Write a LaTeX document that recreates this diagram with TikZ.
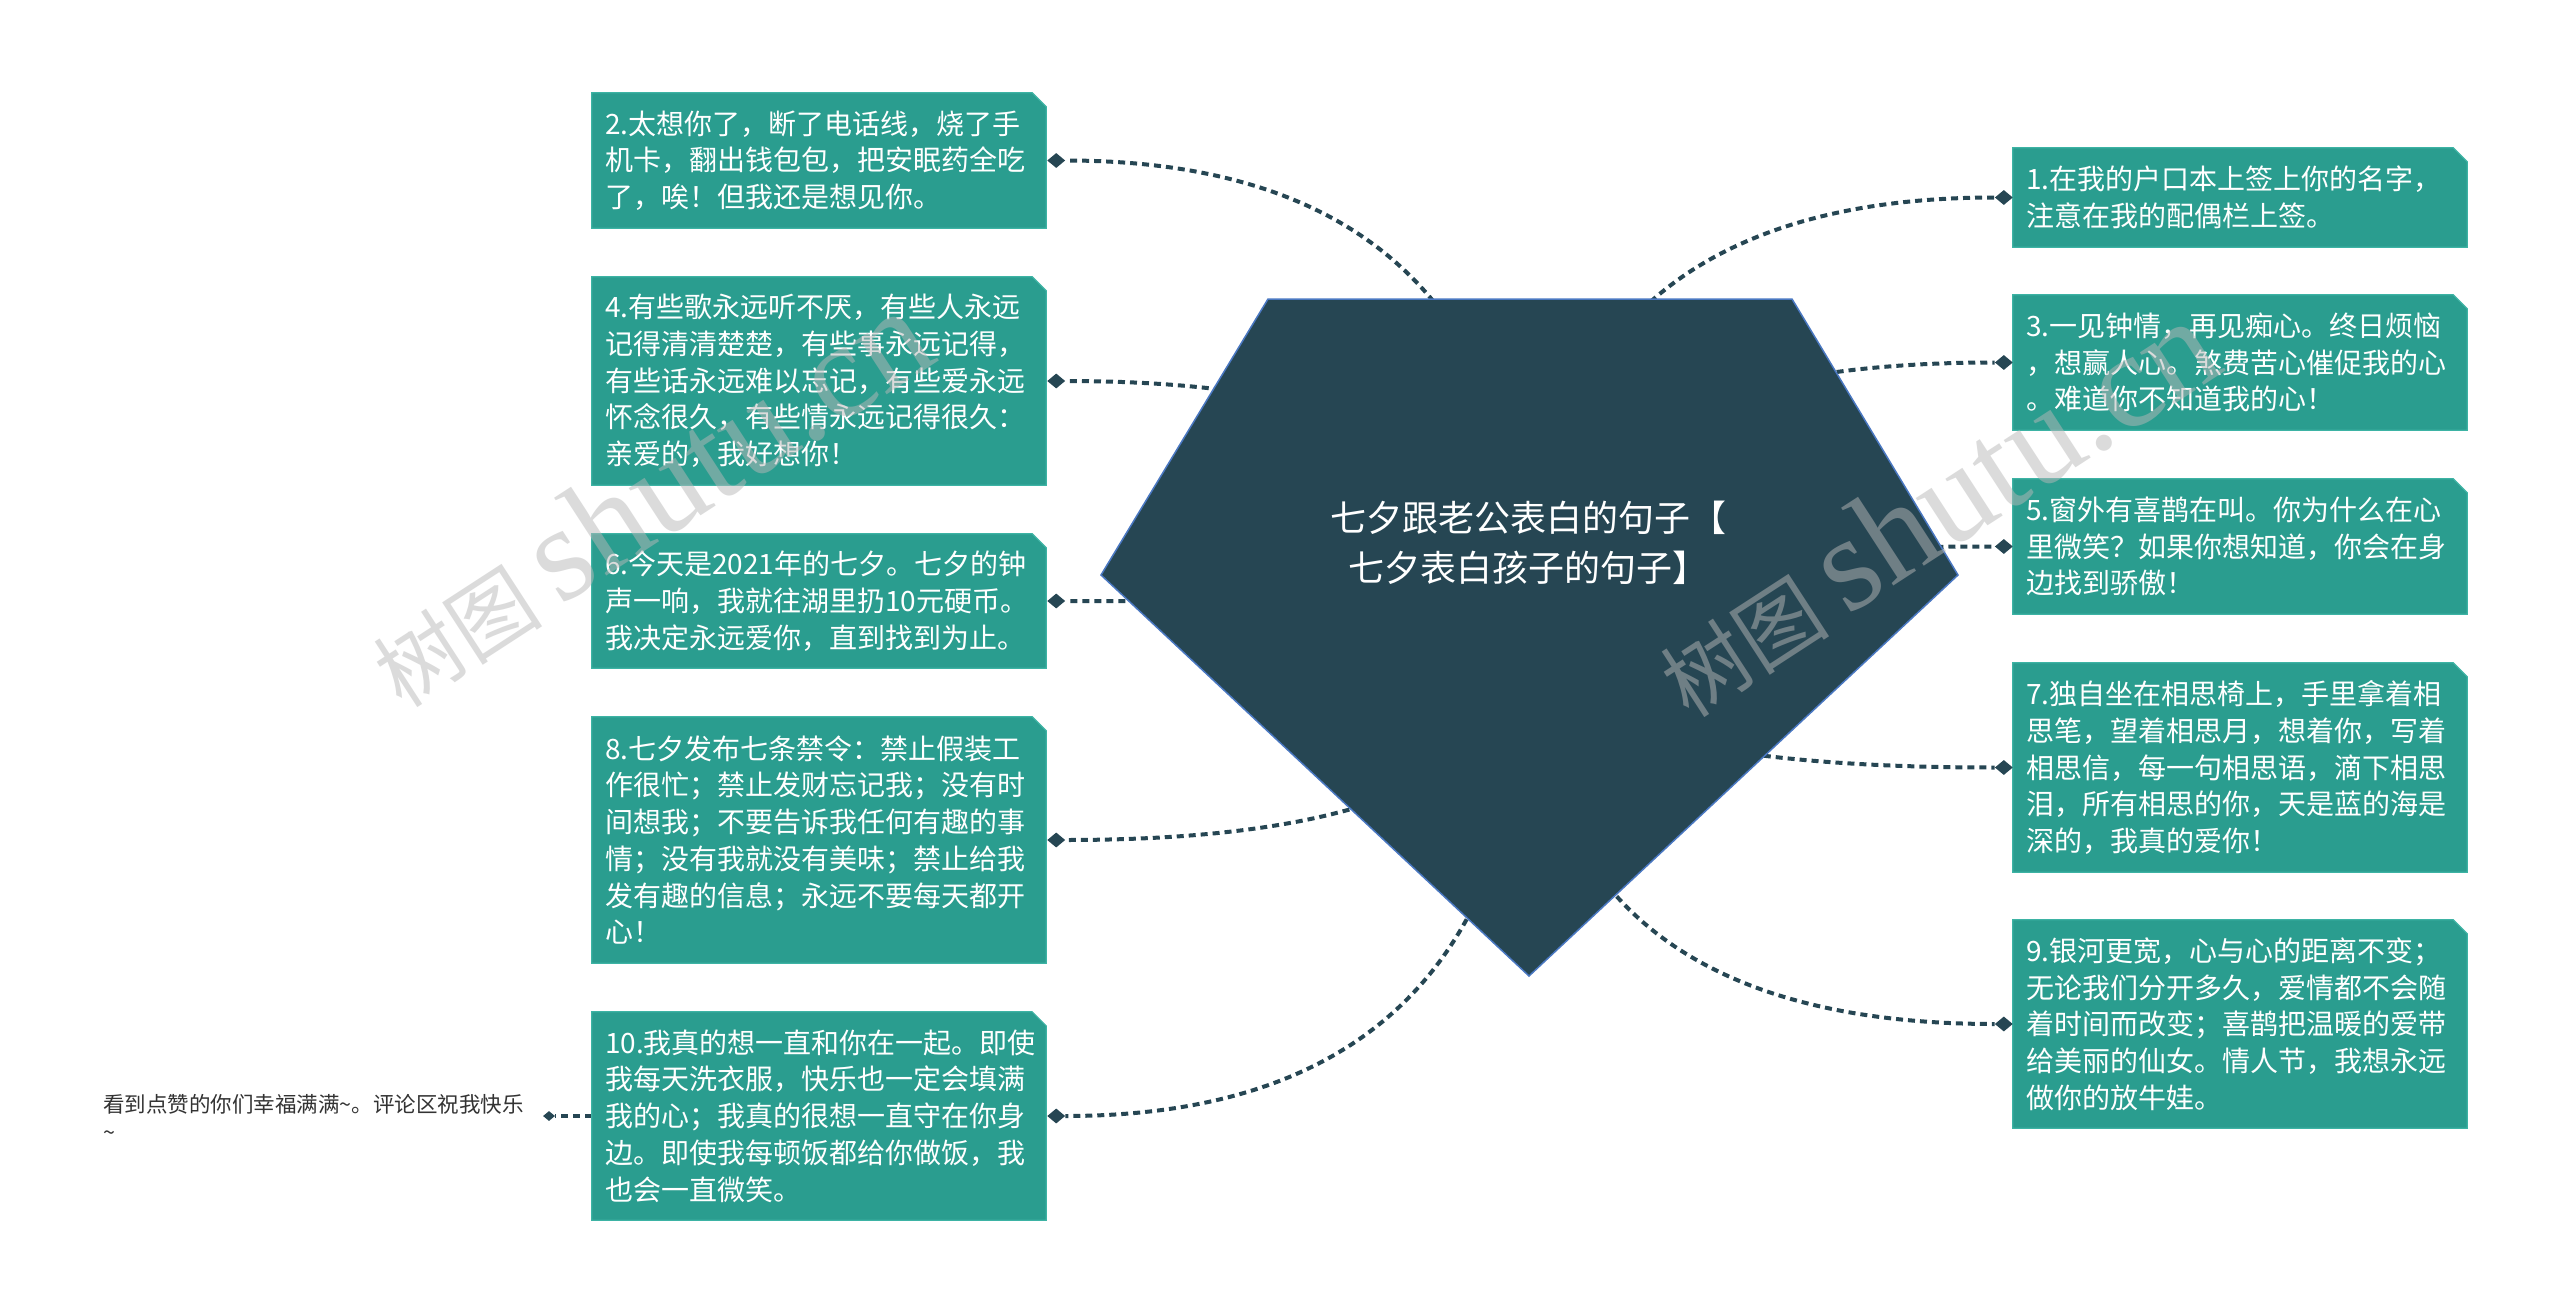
\documentclass[tikz,border=0pt]{standalone}
\usepackage{fontspec}
\setmainfont{Noto Sans CJK SC}
\newfontfamily\wmserif{Liberation Serif}
\usetikzlibrary{shapes.geometric,calc}
\definecolor{boxteal}{HTML}{2A9D8F}
\definecolor{boxedge}{HTML}{3DB3A4}
\definecolor{rootfill}{HTML}{264653}
\definecolor{rootedge}{HTML}{4A78C2}
\definecolor{linecol}{HTML}{264653}
\definecolor{leaftext}{HTML}{333333}
\definecolor{wmgray}{HTML}{B8B8B8}
\pgfdeclarelayer{bg}
\pgfdeclarelayer{lines}
\pgfsetlayers{bg,lines,main}
\tikzset{
  sub/.style={minimum width=454pt, minimum height=#1, inner sep=0pt, text width=428pt,
    align=left, text=white, font=\fontsize{28pt}{36.7pt}\selectfont},
  dmd/.style={diamond, fill=linecol, inner sep=0pt, minimum width=18pt, minimum height=15pt},
  conn/.style={draw=linecol, line width=4pt, dash pattern=on 7pt off 5pt},
  wm/.style={rotate=33, text=wmgray, opacity=0.5, inner sep=0pt, font=\fontsize{85pt}{85pt}\selectfont},
}
\newcommand\chamfbox[1]{\filldraw[fill=boxteal, draw=boxedge, line width=1.2pt]
  (#1.south west) -- (#1.north west) -- ([xshift=-14pt]#1.north east)
  -- ([yshift=-14pt]#1.north east) -- (#1.south east) -- cycle;}
\newcommand\wmtext{树图 {\wmserif\fontsize{135pt}{135pt}\selectfont shutu.cn}}
\begin{document}
\begin{tikzpicture}[x=1pt,y=-1pt]
\useasboundingbox (0,0) rectangle (2560,1314);
\begin{pgfonlayer}{bg}
  \fill[white] (0,0) rectangle (2560,1314);
\end{pgfonlayer}

% root
\coordinate (hub) at (1529,629);
\filldraw[fill=rootfill, draw=rootedge, line width=1.5pt]
  (1268,299) -- (1792,299) -- (1958,575) -- (1529,976) -- (1101,575) -- cycle;
\node[text=white, align=center, inner sep=0pt, font=\fontsize{36pt}{50pt}\selectfont] (root) at (1528,543)
  {七夕跟老公表白的句子【\\七夕表白孩子的句子】};

% left boxes
\node[sub=135pt] (b2) at (819,160.5) {2.太想你了，断了电话线，烧了手\\机卡，翻出钱包包，把安眠药全吃\\了，唉！但我还是想见你。};
\node[sub=208pt] (b4) at (819,381) {4.有些歌永远听不厌，有些人永远\\记得清清楚楚，有些事永远记得，\\有些话永远难以忘记，有些爱永远\\怀念很久，有些情永远记得很久：\\亲爱的，我好想你！};
\node[sub=134pt] (b6) at (819,601) {6.今天是2021年的七夕。七夕的钟\\声一响，我就往湖里扔10元硬币。\\我决定永远爱你，直到找到为止。};
\node[sub=246pt] (b8) at (819,840) {8.七夕发布七条禁令：禁止假装工\\作很忙；禁止发财忘记我；没有时\\间想我；不要告诉我任何有趣的事\\情；没有我就没有美味；禁止给我\\发有趣的信息；永远不要每天都开\\心！};
\node[sub=208pt] (b10) at (819,1116) {10.我真的想一直和你在一起。即使\\我每天洗衣服，快乐也一定会填满\\我的心；我真的很想一直守在你身\\边。即使我每顿饭都给你做饭，我\\也会一直微笑。};

% right boxes
\node[sub=99pt] (b1) at (2240,197.5) {1.在我的户口本上签上你的名字，\\注意在我的配偶栏上签。};
\node[sub=135pt] (b3) at (2240,362.5) {3.一见钟情，再见痴心。终日烦恼\\，想赢人心。煞费苦心催促我的心\\。难道你不知道我的心！};
\node[sub=135pt] (b5) at (2240,546.5) {5.窗外有喜鹊在叫。你为什么在心\\里微笑？如果你想知道，你会在身\\边找到骄傲！};
\node[sub=209pt] (b7) at (2240,767.5) {7.独自坐在相思椅上，手里拿着相\\思笔，望着相思月，想着你，写着\\相思信，每一句相思语，滴下相思\\泪，所有相思的你，天是蓝的海是\\深的，我真的爱你！};
\node[sub=208pt] (b9) at (2240,1024) {9.银河更宽，心与心的距离不变；\\无论我们分开多久，爱情都不会随\\着时间而改变；喜鹊把温暖的爱带\\给美丽的仙女。情人节，我想永远\\做你的放牛娃。};

% diamonds
\foreach \b in {2,4,6,8,10} {\node[dmd] (d\b) at ($(b\b.east)+(10,0)$) {};}
\foreach \b in {1,3,5,7,9} {\node[dmd] (d\b) at ($(b\b.west)+(-9,0)$) {};}

% leaf
\node[dmd, minimum width=12pt, minimum height=10pt] (ld) at (549,1116) {};
\node[anchor=west, inner sep=0pt, align=left, text=leaftext, font=\fontsize{21.5pt}{28pt}\selectfont]
  (leaf) at (103,1117) {看到点赞的你们幸福满满\textasciitilde。评论区祝我快乐\\\textasciitilde};

\begin{pgfonlayer}{lines}
  \foreach \d in {d1,d2,d3,d4,d5,d6,d7,d8,d9,d10} {
    \draw[conn] (hub) .. controls ($(hub)!0.6667!(hub |- \d)$) and ($(\d)!0.6667!(hub |- \d)$) .. (\d);
  }
  \draw[conn] (b10.west) -- (ld);
  \foreach \b in {b1,b2,b3,b4,b5,b6,b7,b8,b9,b10} {\chamfbox{\b}}
\end{pgfonlayer}

% watermarks
\node[wm] (wm1) at (648,498) {\wmtext};
\node[wm] (wm2) at (1935,508) {\wmtext};
\end{tikzpicture}
\end{document}
